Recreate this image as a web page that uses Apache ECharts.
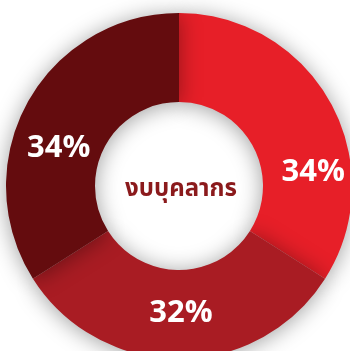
<!DOCTYPE html>
<html>
<head>
<meta charset="utf-8">
<style>
  html, body { margin: 0; padding: 0; background: #ffffff; }
  #chart { width: 350px; height: 351px; }
</style>
<script src="https://cdn.jsdelivr.net/npm/echarts@6/dist/echarts.min.js"></script>
</head>
<body>
<div id="chart"></div>
<script>
// Share of the personnel budget, in percent
const categories = ['ส่วนที่ 1', 'ส่วนที่ 2', 'ส่วนที่ 3'];
const values = [34, 32, 34];
const colors = ['#e71f28', '#a91c23', '#640c0e'];
const labelOffsets = [[19, 50], [2, -4], [-5, 26]];
const centerTitle = 'งบบุคลากร';

const chart = echarts.init(document.getElementById('chart'), null, { renderer: 'canvas' });

const ringData = categories.map((name, i) => ({
  name,
  value: values[i],
  itemStyle: { color: colors[i] },
  label: { offset: labelOffsets[i] }
}));

chart.setOption({
  animation: false,
  series: [
    {
      type: 'pie',
      center: [179, 186],
      radius: [84, 173],
      startAngle: 90,
      clockwise: true,
      silent: true,
      itemStyle: {
        shadowBlur: 22,
        shadowColor: 'rgba(0,0,0,0.38)',
        shadowOffsetX: 0,
        shadowOffsetY: 2
      },
      label: {
        show: true,
        position: 'inside',
        formatter: p => p.value + '%',
        color: '#ffffff',
        fontSize: 31,
        fontWeight: 'bold',
        fontFamily: '"Open Sans", "Noto Sans", sans-serif'
      },
      labelLine: { show: false },
      data: ringData
    },
    {
      type: 'pie',
      center: [179, 186],
      radius: [0, 84],
      silent: true,
      itemStyle: { color: 'rgba(0,0,0,0)' },
      label: {
        show: true,
        position: 'center',
        offset: [2, 3],
        formatter: centerTitle,
        color: '#8b1a1c',
        fontSize: 24,
        fontWeight: 'bold',
        fontFamily: '"Noto Sans", "Noto Sans Thai", sans-serif'
      },
      labelLine: { show: false },
      data: [{ name: centerTitle, value: 1 }]
    }
  ]
});
</script>
</body>
</html>
